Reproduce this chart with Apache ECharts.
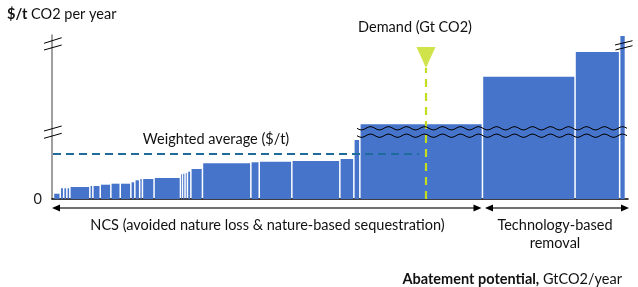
<!DOCTYPE html>
<html>
<head>
<meta charset="utf-8">
<script src="https://cdn.jsdelivr.net/npm/echarts@6/dist/echarts.min.js"></script>
<style>
  html, body { margin: 0; padding: 0; background: #fff; }
  #chart { width: 638px; height: 287px; }
</style>
</head>
<body>
<div id="chart"></div>
<script>
// abatement options, cheapest first: width = GtCO2/year, cost = height on the (broken) $/t axis
var widths = [0.34, 0.17, 0.16, 0.15, 1.0, 0.15, 0.37, 0.53, 0.47, 0.53,
              0.2, 0.24, 0.14, 0.58, 1.32, 0.1, 0.13, 0.12, 0.17, 0.58,
              2.42, 0.42, 1.63, 2.4, 0.7, 0.3, 6.13, 4.63, 2.23, 0.29];
var costs = [5.3, 10.7, 10.7, 10.7, 12, 13, 13, 14.3, 15.3, 15.3,
             16.7, 18.7, 20, 20, 21, 24.7, 25.3, 26, 27.3, 30,
             35.7, 36.7, 37.3, 38, 40, 59, 74.7, 122.3, 147, 163];
var firstStart = 0.11;
var weightedAvg = 45;      // $/t
var weightedAvgEnd = 18.35;
var demand = 18.7;         // Gt CO2
var ncsEnd = 21.55;
var techEnd = 28.75;
var axisMax = [28.8, 164];
var breakCost = [70.7, 63.3];
var breakFrom = 15.25;
var yTicks = [0];

var FONT = 'Lato';
var FS = 14.5;
var BLUE = '#4674cb';
var GREEN = '#c4dc1e';

var bars = [];
var pos = firstStart;
for (var i = 0; i < widths.length; i++) {
  bars.push([pos, pos + widths[i], costs[i]]);
  pos += widths[i];
}

var chart = echarts.init(document.getElementById('chart'));

chart.setOption({
  animation: false,
  grid: { left: 52, right: 10, top: 35, bottom: 88 },
  xAxis: {
    type: 'value', min: 0, max: axisMax[0],
    axisLine: { show: true, lineStyle: { color: '#000', width: 1.5 } },
    axisTick: { show: false }, axisLabel: { show: false }, splitLine: { show: false }
  },
  yAxis: {
    type: 'value', min: 0, max: axisMax[1], interval: axisMax[1],
    axisLine: { show: true, lineStyle: { color: '#7f7f7f', width: 1.5 } },
    axisTick: { show: false }, splitLine: { show: false },
    axisLabel: {
      margin: 10, fontFamily: FONT, fontSize: FS, color: '#222',
      formatter: function (v) { return yTicks.indexOf(v) >= 0 ? String(v) : ''; }
    }
  },
  series: [
    {
      type: 'custom',
      data: bars,
      encode: { x: [0, 1], y: 2 },
      renderItem: function (params, api) {
        var p0 = api.coord([api.value(0), 0]);
        var p1 = api.coord([api.value(1), api.value(2)]);
        return {
          type: 'rect',
          shape: { x: p0[0], y: p1[1], width: Math.max(p1[0] - p0[0] - 1.5, 0.8), height: p0[1] - p1[1] },
          style: { fill: BLUE }
        };
      },
      z: 2
    },
    {
      type: 'line',
      data: [[0.05, weightedAvg], [weightedAvgEnd, weightedAvg]],
      symbol: 'none',
      lineStyle: { color: '#1f6c9c', width: 2.2, type: [8, 5] },
      z: 3
    },
    {
      type: 'line',
      data: [[demand, 0], [demand, 131]],
      symbol: 'none',
      lineStyle: { color: GREEN, width: 2.2, type: [8, 6] },
      z: 4
    },
    {
      type: 'scatter',
      data: [[demand, 141.5]],
      symbol: 'triangle',
      symbolRotate: 180,
      symbolSize: [19, 21],
      itemStyle: { color: GREEN },
      z: 5
    }
  ]
});

function px(x, y) { return chart.convertToPixel({ gridIndex: 0 }, [x, y]); }

var g = [];
var lineStyleBlack = { stroke: '#000', lineWidth: 1 };

// wavy break lines across the tall bars
breakCost.forEach(function (c) {
  var a = px(breakFrom, c), b = px(techEnd, c);
  var pts = [];
  for (var x = a[0]; x <= b[0] + 0.1; x += 1) {
    pts.push([x, a[1] + 1.6 * Math.sin((x - a[0]) / 18 * 2 * Math.PI)]);
  }
  g.push({ type: 'polyline', shape: { points: pts }, style: { stroke: '#000', lineWidth: 1, fill: null }, z: 100 });
});

// axis break marks
function breakMark(x0, y0, x1, y1) {
  g.push({ type: 'line', shape: { x1: x0, y1: y0, x2: x1, y2: y1 }, style: lineStyleBlack, z: 100 });
}
var yl = px(0, 0)[0];
[[43.3, 37.7], [50, 45], [131, 126], [138.3, 133.3]].forEach(function (m) {
  breakMark(yl - 8, m[0], yl + 9.7, m[1]);
});
var tr = px(techEnd, 0)[0];
breakMark(tr - 12, 45, tr + 5.5, 40.7);
breakMark(tr - 11.5, 50, tr + 5.5, 45.7);

// category arrows under the axis
function arrow(xa, xb, y) {
  g.push({ type: 'line', shape: { x1: xa + 6, y1: y, x2: xb - 6, y2: y }, style: { stroke: '#404040', lineWidth: 1.5 }, z: 100 });
  g.push({ type: 'polygon', shape: { points: [[xa, y], [xa + 8, y - 3.5], [xa + 8, y + 3.5]] }, style: { fill: '#000' }, z: 100 });
  g.push({ type: 'polygon', shape: { points: [[xb, y], [xb - 8, y - 3.5], [xb - 8, y + 3.5]] }, style: { fill: '#000' }, z: 100 });
}
var ay = px(0, 0)[1] + 9;
arrow(px(0, 0)[0], px(ncsEnd, 0)[0] - 1.5, ay);
arrow(px(ncsEnd, 0)[0] + 2, px(techEnd, 0)[0] + 2, ay);

var txt = { fontFamily: FONT, fontSize: FS, fill: '#111' };
var boldRich = { b: { fontFamily: FONT, fontSize: FS, fontWeight: 'bold', fill: '#111' } };
function text(x, y, s, align, extra) {
  var st = Object.assign({ text: s, textAlign: align, textVerticalAlign: 'middle' }, txt, extra || {});
  g.push({ type: 'text', x: x, y: y, style: st, z: 100 });
}
text(7, 14, '{b|$/t} CO2 per year', 'left', { rich: boldRich });
text(415, 27, 'Demand (Gt CO2)', 'center');
text(216, 139, 'Weighted average ($/t)', 'center');
text((px(0, 0)[0] + px(ncsEnd, 0)[0]) / 2, 225, 'NCS (avoided nature loss & nature-based sequestration)', 'center');
text(555, 234, 'Technology-based\nremoval', 'center', { lineHeight: 18 });
text(622, 279, '{b|Abatement potential,} GtCO2/year', 'right', { rich: boldRich });

chart.setOption({ graphic: g });
</script>
</body>
</html>
